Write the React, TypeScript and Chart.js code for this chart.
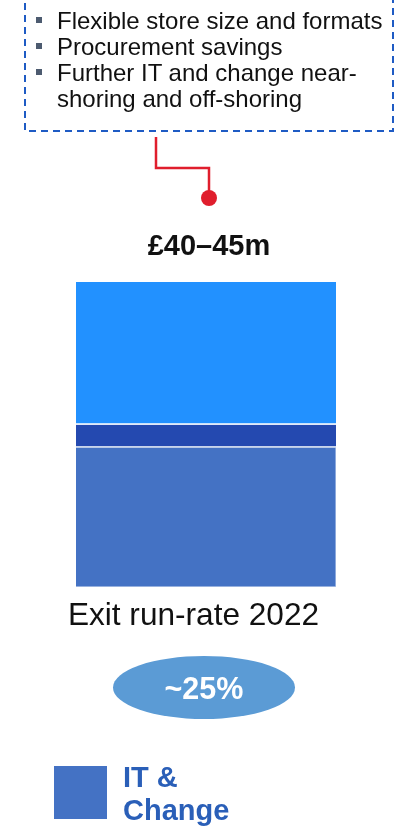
import React, { useEffect, useRef } from "react";
import { Chart, registerables } from "chart.js";

Chart.register(...registerables);

const categories = ["Exit run-rate 2022"];
const itChange = [19.4];
const middleSeg = [3.2];
const topSeg = [19.9];
const totalMax = 42.5;
const totalLabel = "£40–45m";
const shareLabel = "~25%";
const legendLabel = ["IT &", "Change"];
const bulletLines = [
  "Flexible store size and formats",
  "Procurement savings",
  "Further IT and change near-",
  "shoring and off-shoring",
];

const FONT = "'Liberation Sans', Arial, sans-serif";

export default function App() {
  const ref = useRef<HTMLCanvasElement | null>(null);

  useEffect(() => {
    if (!ref.current) return;
    const chart = new Chart(ref.current, {
      type: "bar",
      data: {
        labels: categories,
        datasets: [
          {
            label: "IT & Change",
            data: itChange,
            backgroundColor: "#4472c4",
            borderColor: "#b4c7e7",
            borderWidth: { top: 0, right: 1, bottom: 1, left: 0 },
            borderSkipped: false,
            categoryPercentage: 1,
            barPercentage: 1,
          },
          {
            label: "Other",
            data: middleSeg,
            backgroundColor: "#2449b0",
            borderColor: "#c9d5ec",
            borderWidth: { top: 0, right: 0, bottom: 2, left: 0 },
            borderSkipped: false,
            categoryPercentage: 1,
            barPercentage: 1,
          },
          {
            label: "Further",
            data: topSeg,
            backgroundColor: "#2291ff",
            borderColor: "#ffffff",
            borderWidth: { top: 0, right: 0, bottom: 2, left: 0 },
            borderSkipped: false,
            categoryPercentage: 1,
            barPercentage: 1,
          },
        ],
      },
      options: {
        responsive: false,
        animation: false,
        layout: { padding: { left: 76, right: 69, top: 282, bottom: 243 } },
        plugins: { legend: { display: false }, tooltip: { enabled: false } },
        scales: {
          x: { stacked: true, display: false },
          y: { stacked: true, display: false, min: 0, max: totalMax },
        },
      },
    });
    return () => chart.destroy();
  }, []);

  const textTop = (baseline: number, fs: number) => baseline - fs * 0.8465;

  return (
    <div style={{ position: "absolute", left: 0, top: 0, width: 405, height: 830, overflow: "hidden", background: "#fff", fontFamily: FONT }}>
      <canvas ref={ref} width={405} height={830} style={{ position: "absolute", left: 0, top: 0, width: 405, height: 830 }} />
      <svg width={405} height={830} style={{ position: "absolute", left: 0, top: 0 }}>
        <rect x={25} y={-20} width={368} height={151} fill="none" stroke="#1f5bc4" strokeWidth={2} strokeDasharray="7 5" />
        <polyline points="156,137 156,168 209,168 209,192" fill="none" stroke="#e01e2d" strokeWidth={2.5} />
        <circle cx={209} cy={198} r={8} fill="#e01e2d" />
        <ellipse cx={204} cy={687.5} rx={91} ry={31.5} fill="#5b9bd5" />
        <rect x={54} y={766} width={53} height={53} fill="#4472c4" />
        {bulletLines.slice(0, 3).map((_, i) => (
          <rect key={i} x={36} y={17 + i * 26} width={6} height={6} fill="#4d5b70" />
        ))}
      </svg>
      {bulletLines.map((t, i) => (
        <div key={i} style={{ position: "absolute", left: 57, top: textTop(29 + i * 26, 24), fontSize: 24, lineHeight: "24px", color: "#111", whiteSpace: "nowrap" }}>{t}</div>
      ))}
      <div style={{ position: "absolute", left: 0, width: 418, textAlign: "center", top: textTop(256, 29), fontSize: 29, lineHeight: "29px", fontWeight: "bold", color: "#111" }}>{totalLabel}</div>
      <div style={{ position: "absolute", left: 0, width: 387, textAlign: "center", top: textTop(625, 31.6), fontSize: 31.6, lineHeight: "32px", color: "#111", whiteSpace: "nowrap" }}>{categories[0]}</div>
      <div style={{ position: "absolute", left: 0, width: 408, textAlign: "center", top: textTop(699, 30.5), fontSize: 30.5, lineHeight: "30px", fontWeight: "bold", color: "#fff" }}>{shareLabel}</div>
      {legendLabel.map((t, i) => (
        <div key={i} style={{ position: "absolute", left: 123, top: textTop(788 + i * 33, 29), fontSize: 29, lineHeight: "29px", fontWeight: "bold", color: "#2a5fb8", whiteSpace: "nowrap" }}>{t}</div>
      ))}
    </div>
  );
}
